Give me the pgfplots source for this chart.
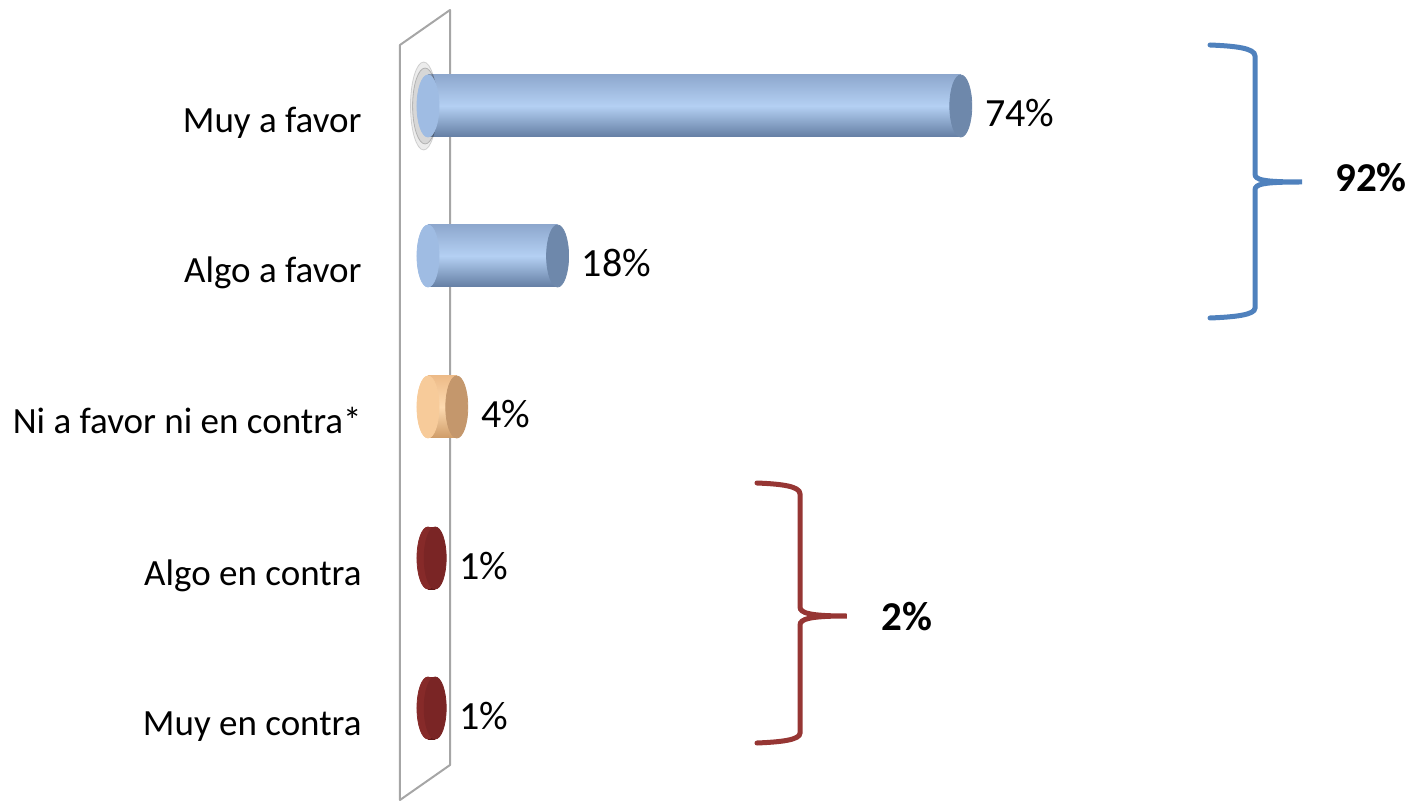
\documentclass[border=0pt]{standalone}
\usepackage{fontspec}
\setmainfont{Carlito}
\usepackage{pgfplots}
\pgfplotsset{compat=1.18}

\definecolor{bluetop}{HTML}{8EA8CE}
\definecolor{bluemid}{HTML}{B4D0F3}
\definecolor{bluebot}{HTML}{647EA3}
\definecolor{blueend}{HTML}{9FBCE3}
\definecolor{bluecap}{HTML}{6E88AB}
\definecolor{orgtop}{HTML}{EDBB88}
\definecolor{orgmid}{HTML}{FDDAB0}
\definecolor{orgbot}{HTML}{CF9C68}
\definecolor{orgend}{HTML}{F7CB9A}
\definecolor{orgcap}{HTML}{C4976C}
\definecolor{redtop}{HTML}{7C2424}
\definecolor{redmid}{HTML}{93302E}
\definecolor{redbot}{HTML}{5E1717}
\definecolor{redend}{HTML}{862A29}
\definecolor{redcap}{HTML}{7A2525}
\definecolor{braceblue}{HTML}{4F81BD}
\definecolor{bracered}{HTML}{963634}
\definecolor{wallgray}{HTML}{A6A6A6}

\pgfplotsset{
  leftcap/.style={only marks, color=#1, mark=*, mark size=15.5pt,
    mark options={xscale=0.355, draw=#1, fill=#1}},
  rightcap/.style={only marks, color=#1, mark=*, mark size=15.5pt,
    mark options={xscale=0.355, draw=#1, fill=#1},
    point meta=x,
    nodes near coords={\pgfmathprintnumber{\pgfplotspointmeta}\%},
    every node near coord/.append style={anchor=base west, inner sep=0pt,
      xshift=12pt, yshift=-10.5pt, text=black,
      /pgf/number format/assume math mode=true,
      font=\fontsize{20}{24}\selectfont}},
  cyl/.style n args={3}{xbar, bar width=31pt, bar shift=0pt, draw=none,
    top color=#1, bottom color=#3, middle color=#2},
}

\begin{document}
\begin{tikzpicture}
\begin{axis}[
  width=708.5pt, height=400.5pt, scale only axis,
  xmin=-59.44, xmax=137.36,
  ymin=0, ymax=801, y dir=reverse,
  clip=false,
  axis line style={draw=none},
  xtick=\empty,
  ytick={106,256,407,558,708},
  yticklabels={Muy a favor, Algo a favor, Ni a favor ni en contra*, Algo en contra, Muy en contra},
  ytick style={draw=none},
  yticklabel style={anchor=base east, inner sep=0pt, xshift=181pt, yshift=-13.5pt,
    font=\fontsize{18.5}{22}\selectfont},
]

% back wall
\draw[wallgray, line width=1pt, line join=round]
  (axis cs:-3.89,45) -- (axis cs:3.06,10) -- (axis cs:3.06,765)
  -- (axis cs:-3.89,800) -- cycle;

% soft shadow behind the first bar
\addplot[only marks, mark=*, mark size=22pt,
  mark options={xscale=0.3, draw=none, fill=gray, opacity=0.15}]
  coordinates {(-0.6,106)};
\addplot[only marks, mark=*, mark size=19pt,
  mark options={xscale=0.33, draw=none, fill=gray, opacity=0.2}]
  coordinates {(-0.4,106)};

% left ends
\addplot[leftcap=blueend] coordinates {(0,106) (0,256)};
\addplot[leftcap=orgend] coordinates {(0,407)};
\addplot[leftcap=redend] coordinates {(0,558) (0,708)};

% bodies
\addplot[cyl={bluetop}{bluemid}{bluebot}] coordinates {(74,106)};
\addplot[cyl={bluetop}{bluemid}{bluebot}] coordinates {(18,256)};
\addplot[cyl={orgtop}{orgmid}{orgbot}] coordinates {(4,407)};
\addplot[cyl={redtop}{redmid}{redbot}] coordinates {(1,558)};
\addplot[cyl={redtop}{redmid}{redbot}] coordinates {(1,708)};

% right ends with values
\addplot[rightcap=bluecap] coordinates {(74,106) (18,256)};
\addplot[rightcap=orgcap] coordinates {(4,407)};
\addplot[rightcap=redcap] coordinates {(1,558) (1,708)};

% braces
\draw[braceblue, line width=2.5pt, line cap=round]
  (axis cs:108.61,45) .. controls (axis cs:112,46) and (axis cs:114.86,48) .. (axis cs:114.86,56)
  -- (axis cs:114.86,174) .. controls (axis cs:114.86,180) and (axis cs:116,182) .. (axis cs:121.39,182)
  .. controls (axis cs:116,182) and (axis cs:114.86,184) .. (axis cs:114.86,190)
  -- (axis cs:114.86,308) .. controls (axis cs:114.86,315) and (axis cs:112,317) .. (axis cs:108.61,318);
\node[anchor=base, inner sep=0pt, font=\bfseries\fontsize{20.5}{24}\selectfont]
  at (axis cs:130.97,192) {92\%};

\draw[bracered, line width=2.5pt, line cap=round]
  (axis cs:45.69,483) .. controls (axis cs:49,484) and (axis cs:51.67,486) .. (axis cs:51.67,494)
  -- (axis cs:51.67,607) .. controls (axis cs:51.67,613) and (axis cs:53,616) .. (axis cs:58.19,616)
  .. controls (axis cs:53,616) and (axis cs:51.67,619) .. (axis cs:51.67,625)
  -- (axis cs:51.67,733) .. controls (axis cs:51.67,740) and (axis cs:49,742) .. (axis cs:45.69,743);
\node[anchor=base, inner sep=0pt, font=\bfseries\fontsize{20.5}{24}\selectfont]
  at (axis cs:66.53,630) {2\%};

\end{axis}
\end{tikzpicture}
\end{document}
